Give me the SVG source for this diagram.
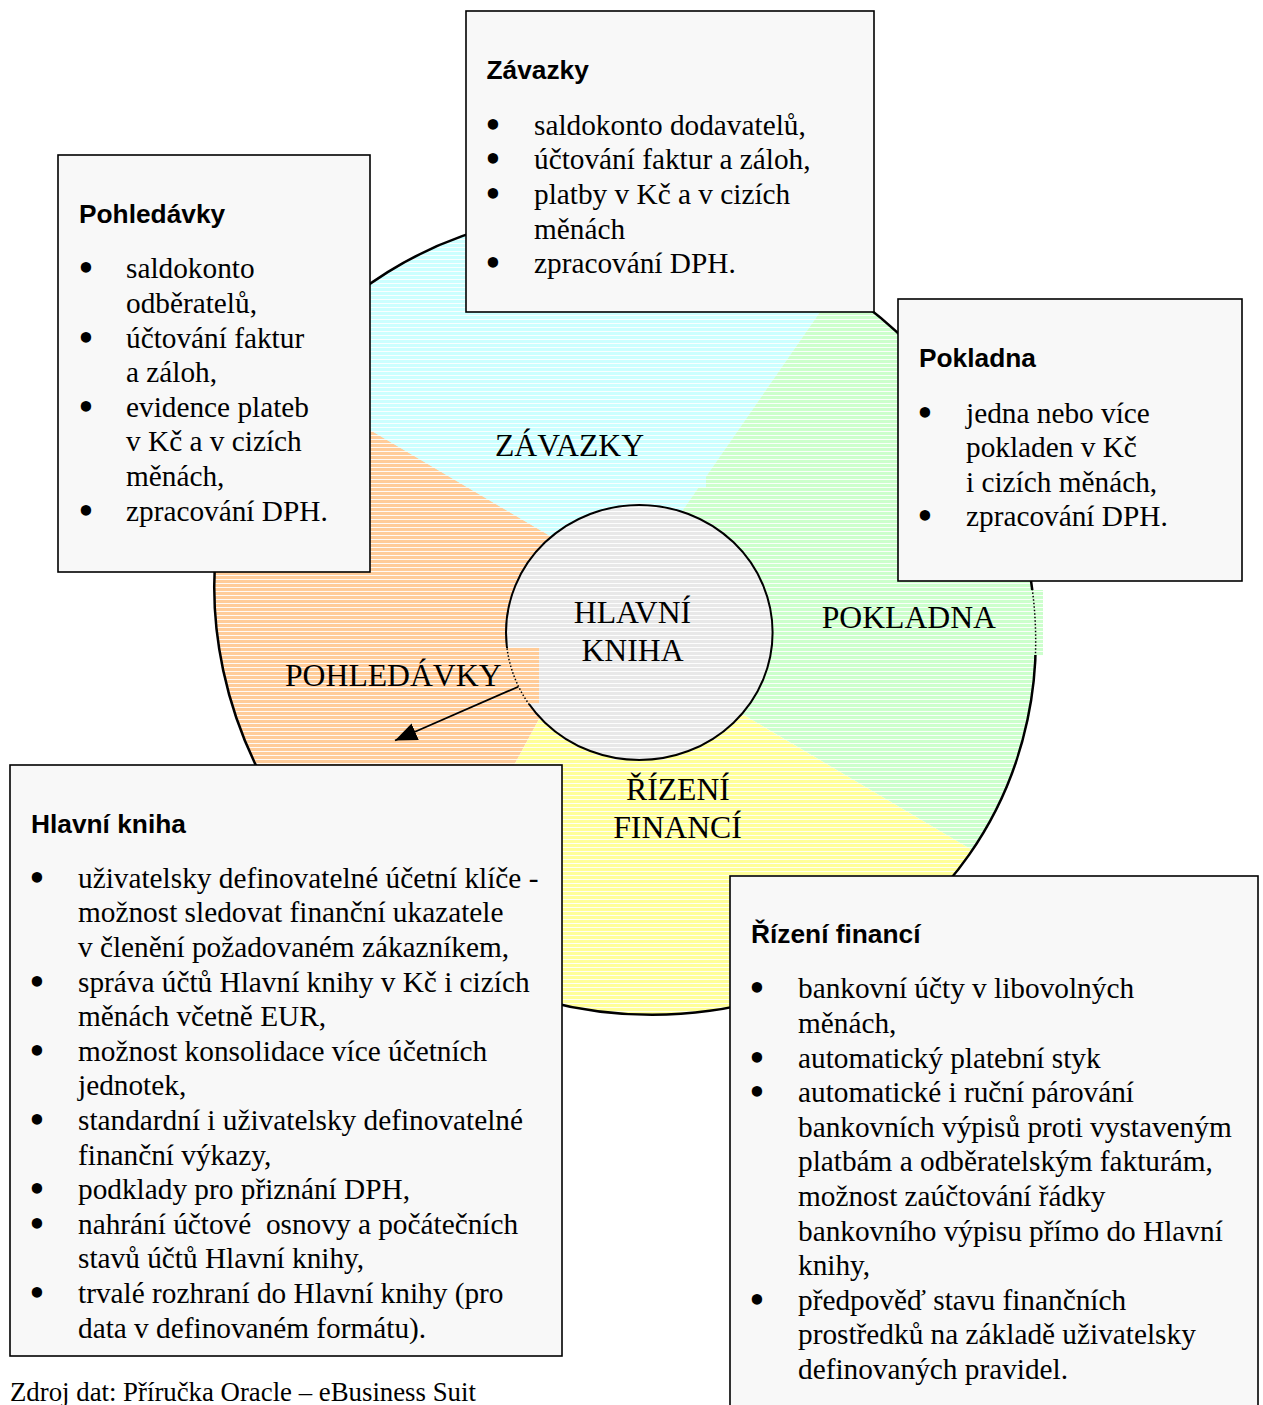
<svg xmlns="http://www.w3.org/2000/svg" width="1263" height="1405" viewBox="0 0 1263 1405">
<style>
.box{fill:#F8F8F8;stroke:#000;stroke-width:1.6}
.h{font-family:"Liberation Sans",Arial,sans-serif;font-weight:bold;font-size:26.3px;fill:#000}
.t{font-family:"Liberation Serif","Times New Roman",serif;font-size:29.3px;fill:#000}
.b{font-family:"DejaVu Sans",sans-serif;font-weight:bold;font-size:29.5px;fill:#000;text-anchor:middle}
.lab{font-family:"Liberation Serif","Times New Roman",serif;font-size:31.7px;fill:#000}
.foot{font-family:"Liberation Serif","Times New Roman",serif;font-size:26.8px;fill:#000}
</style>
<defs>
<pattern id="pOr" width="8" height="4" patternUnits="userSpaceOnUse"><rect width="8" height="4" fill="#FFCC99"/><rect y="3" width="8" height="1" fill="#FFFFFF" fill-opacity="0.9"/></pattern>
<pattern id="pCy" width="8" height="4" patternUnits="userSpaceOnUse"><rect width="8" height="4" fill="#CCFFFF"/><rect y="3" width="8" height="1" fill="#FFFFFF" fill-opacity="0.9"/></pattern>
<pattern id="pGr" width="8" height="4" patternUnits="userSpaceOnUse"><rect width="8" height="4" fill="#CCFFCC"/><rect y="3" width="8" height="1" fill="#FFFFFF" fill-opacity="0.9"/></pattern>
<pattern id="pYe" width="8" height="4" patternUnits="userSpaceOnUse"><rect width="8" height="4" fill="#FFFF99"/><rect y="3" width="8" height="1" fill="#FFFFFF" fill-opacity="0.9"/></pattern>
<pattern id="pGy" width="8" height="4" patternUnits="userSpaceOnUse"><rect width="8" height="4" fill="#E8E8E8"/><rect y="3" width="8" height="1" fill="#FFFFFF" fill-opacity="0.9"/></pattern>
<clipPath id="outerClip"><ellipse cx="625" cy="614" rx="420" ry="391" transform="rotate(35 625 614)"/></clipPath>
<clipPath id="pohRectClip"><rect x="280" y="648" width="259" height="56"/></clipPath>
<clipPath id="pokRectClip"><rect x="815" y="590" width="228" height="65"/></clipPath>
<marker id="arr" viewBox="0 0 22 18" refX="22" refY="9" markerWidth="22" markerHeight="18" markerUnits="userSpaceOnUse" orient="auto"><path d="M0,0 L22,9 L0,18 z" fill="#000"/></marker>
</defs>

<g id="pie">
  <g clip-path="url(#outerClip)">
    <polygon id="wedge-pohledavky" points="100,271 617,575 300,1161 0,1200 0,200" fill="url(#pOr)"/>
    <polygon id="wedge-zavazky" points="100,271 631.8,584.3 1000,52 1000,0 0,0 0,271" fill="url(#pCy)"/>
    <polygon id="wedge-pokladna" points="1000,52 599.9,630 1300,1044 1300,0 1000,0" fill="url(#pGr)"/>
    <polygon id="wedge-rizeni" points="1300,1044 590.3,624.4 300,1161 300,1300 1300,1300" fill="url(#pYe)"/>
    <rect x="490" y="410" width="216" height="78" fill="url(#pCy)"/>
  </g>
  <ellipse id="node-center" cx="639.3" cy="632.5" rx="133.3" ry="127.5" fill="url(#pGy)" stroke="#000" stroke-width="2"/>
  <ellipse cx="625" cy="614" rx="420" ry="391" transform="rotate(35 625 614)" fill="none" stroke="#000" stroke-width="2.5"/>
  <rect x="280" y="648" width="259" height="56" fill="url(#pOr)"/>
  <rect x="815" y="590" width="228" height="65" fill="url(#pGr)"/>
  <g clip-path="url(#pohRectClip)"><ellipse cx="639.3" cy="632.5" rx="133.3" ry="127.5" fill="none" stroke="#000" stroke-width="1.5" stroke-dasharray="1.5 2"/></g>
  <g clip-path="url(#pokRectClip)"><ellipse cx="625" cy="614" rx="420" ry="391" transform="rotate(35 625 614)" fill="none" stroke="#000" stroke-width="1.5" stroke-dasharray="1.5 2"/></g>
  <text class="lab" x="495" y="456">ZÁVAZKY</text>
  <text class="lab" x="632.5" y="623.3" text-anchor="middle">HLAVNÍ</text>
  <text class="lab" x="632.5" y="660.7" text-anchor="middle">KNIHA</text>
  <text class="lab" x="285" y="686">POHLEDÁVKY</text>
  <text class="lab" x="821.7" y="628.3">POKLADNA</text>
  <text class="lab" x="678" y="800" text-anchor="middle">ŘÍZENÍ</text>
  <text class="lab" x="677.5" y="838.3" text-anchor="middle">FINANCÍ</text>
</g>

<g id="connectors">
  <line x1="518.3" y1="686.7" x2="395" y2="740.5" stroke="#000" stroke-width="1.8" marker-end="url(#arr)"/>
</g>

<g id="node-zavazky">
  <rect class="box" x="466" y="11" width="408" height="301"/>
  <text class="h" x="486.5" y="79">Závazky</text>
  <text class="b" x="493" y="135.8">•</text>
  <text class="b" x="493" y="170.4">•</text>
  <text class="b" x="493" y="205">•</text>
  <text class="b" x="493" y="274.2">•</text>
  <text class="t" x="534" y="134.8">saldokonto dodavatelů,</text>
  <text class="t" x="534" y="169.4">účtování faktur a záloh,</text>
  <text class="t" x="534" y="204">platby v Kč a v cizích</text>
  <text class="t" x="534" y="238.6">měnách</text>
  <text class="t" x="534" y="273.2">zpracování DPH.</text>
</g>

<g id="node-pohledavky">
  <rect class="box" x="58" y="155" width="312" height="417"/>
  <text class="h" x="79" y="222.5">Pohledávky</text>
  <text class="b" x="86" y="279.3">•</text>
  <text class="b" x="86" y="348.5">•</text>
  <text class="b" x="86" y="417.7">•</text>
  <text class="b" x="86" y="521.5">•</text>
  <text class="t" x="126" y="278.3">saldokonto</text>
  <text class="t" x="126" y="312.9">odběratelů,</text>
  <text class="t" x="126" y="347.5">účtování faktur</text>
  <text class="t" x="126" y="382.1">a záloh,</text>
  <text class="t" x="126" y="416.7">evidence plateb</text>
  <text class="t" x="126" y="451.3">v Kč a v cizích</text>
  <text class="t" x="126" y="485.9">měnách,</text>
  <text class="t" x="126" y="520.5">zpracování DPH.</text>
</g>

<g id="node-pokladna">
  <rect class="box" x="898" y="299" width="344" height="282"/>
  <text class="h" x="919" y="367.3">Pokladna</text>
  <text class="b" x="925" y="423.6">•</text>
  <text class="b" x="925" y="527.4">•</text>
  <text class="t" x="966" y="422.6">jedna nebo více</text>
  <text class="t" x="966" y="457.2">pokladen v Kč</text>
  <text class="t" x="966" y="491.8">i cizích měnách,</text>
  <text class="t" x="966" y="526.4">zpracování DPH.</text>
</g>

<g id="node-hlavni-kniha">
  <rect class="box" x="10" y="765" width="552" height="591"/>
  <text class="h" x="31" y="832.5">Hlavní kniha</text>
  <text class="b" x="37" y="888.8">•</text>
  <text class="b" x="37" y="992.6">•</text>
  <text class="b" x="37" y="1061.8">•</text>
  <text class="b" x="37" y="1131">•</text>
  <text class="b" x="37" y="1200.2">•</text>
  <text class="b" x="37" y="1234.8">•</text>
  <text class="b" x="37" y="1304">•</text>
  <text class="t" x="78" y="887.8">uživatelsky definovatelné účetní klíče -</text>
  <text class="t" x="78" y="922.4">možnost sledovat finanční ukazatele</text>
  <text class="t" x="78" y="957">v členění požadovaném zákazníkem,</text>
  <text class="t" x="78" y="991.6">správa účtů Hlavní knihy v Kč i cizích</text>
  <text class="t" x="78" y="1026.2">měnách včetně EUR,</text>
  <text class="t" x="78" y="1060.8">možnost konsolidace více účetních</text>
  <text class="t" x="78" y="1095.4">jednotek,</text>
  <text class="t" x="78" y="1130">standardní i uživatelsky definovatelné</text>
  <text class="t" x="78" y="1164.6">finanční výkazy,</text>
  <text class="t" x="78" y="1199.2">podklady pro přiznání DPH,</text>
  <text class="t" x="78" y="1233.8" style="white-space:pre">nahrání účtové  osnovy a počátečních</text>
  <text class="t" x="78" y="1268.4">stavů účtů Hlavní knihy,</text>
  <text class="t" x="78" y="1303">trvalé rozhraní do Hlavní knihy (pro</text>
  <text class="t" x="78" y="1337.6">data v definovaném formátu).</text>
</g>

<g id="node-rizeni-financi">
  <rect class="box" x="730" y="876" width="528" height="540"/>
  <text class="h" x="751" y="942.5">Řízení financí</text>
  <text class="b" x="757" y="999.3">•</text>
  <text class="b" x="757" y="1068.5">•</text>
  <text class="b" x="757" y="1103.1">•</text>
  <text class="b" x="757" y="1310.7">•</text>
  <text class="t" x="798" y="998.3">bankovní účty v libovolných</text>
  <text class="t" x="798" y="1032.9">měnách,</text>
  <text class="t" x="798" y="1067.5">automatický platební styk</text>
  <text class="t" x="798" y="1102.1">automatické i ruční párování</text>
  <text class="t" x="798" y="1136.7">bankovních výpisů proti vystaveným</text>
  <text class="t" x="798" y="1171.3">platbám a odběratelským fakturám,</text>
  <text class="t" x="798" y="1205.9">možnost zaúčtování řádky</text>
  <text class="t" x="798" y="1240.5">bankovního výpisu přímo do Hlavní</text>
  <text class="t" x="798" y="1275.1">knihy,</text>
  <text class="t" x="798" y="1309.7">předpověď stavu finančních</text>
  <text class="t" x="798" y="1344.3">prostředků na základě uživatelsky</text>
  <text class="t" x="798" y="1378.9">definovaných pravidel.</text>
</g>

<text id="footer" class="foot" x="10" y="1401">Zdroj dat: Příručka Oracle – eBusiness Suit</text>
</svg>
